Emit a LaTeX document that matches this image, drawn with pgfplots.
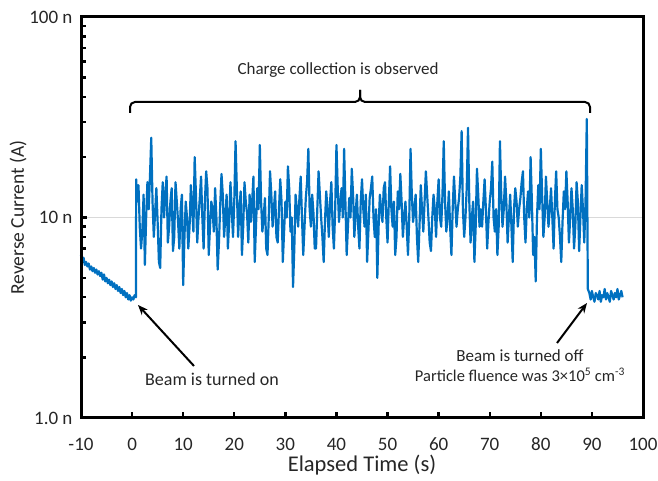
\documentclass[border=0pt]{standalone}
\usepackage{pgfplots}
\pgfplotsset{compat=1.18}
\usepackage{fontspec}
\setmainfont{Carlito}
\usetikzlibrary{arrows.meta}
\definecolor{exblue}{RGB}{0,112,192}
\begin{document}
\begin{tikzpicture}[x=1pt,y=1pt]
\useasboundingbox (0,0) rectangle (658,481);
\begin{axis}[
  at={(81pt,63pt)}, anchor=south west,
  scale only axis, width=562pt, height=401pt,
  xmin=-10, xmax=100, ymin=1, ymax=100, ymode=log,
  xtick={-10,0,10,20,30,40,50,60,70,80,90,100},
  xticklabels={-10,0,10,20,30,40,50,60,70,80,90,100},
  ytick={1,10,100}, yticklabels={1.0 n,10 n,100 n},
  xtick pos=bottom, ytick pos=left,
  tick align=inside,
  major tick length=6pt, minor tick length=5pt,
  tick style={black, line width=2.4pt},
  minor tick style={black, line width=2.4pt},
  ymajorgrids, major grid style={black!15, line width=0.6pt},
  ticklabel style={font=\fontsize{19}{22}\selectfont, text=black!85},
  xticklabel style={anchor=center, yshift=-26pt},
  yticklabel style={anchor=east, xshift=-5pt},
  xlabel={Elapsed Time (s)}, ylabel={Reverse Current (A)},
  label style={text=black!85},
  xlabel style={font=\fontsize{22.5}{26}\selectfont, at={(axis description cs:0.5,-0.1172)}, anchor=center},
  ylabel style={font=\fontsize{19.5}{23}\selectfont, at={(axis description cs:-0.1121,0.5)}, anchor=center},
  clip=false,
]
\addplot[exblue, line width=2.2pt, line join=round] coordinates {
(-10,6.5) (-9.75,6.1) (-9.5,6.3) (-9.25,5.8) (-9,6.0) (-8.75,5.7) (-8.5,5.9) (-8.25,5.5) (-8,5.7) (-7.75,5.4)
(-7.5,5.6) (-7.25,5.3) (-7,5.5) (-6.75,5.2) (-6.5,5.4) (-6.25,5.1) (-6,5.3) (-5.75,4.9) (-5.5,5.2) (-5.25,4.8)
(-5,5.0) (-4.75,4.7) (-4.5,4.9) (-4.25,4.6) (-4,4.8) (-3.75,4.5) (-3.5,4.7) (-3.25,4.4) (-3,4.6) (-2.75,4.3)
(-2.5,4.5) (-2.25,4.2) (-2,4.4) (-1.75,4.1) (-1.5,4.3) (-1.25,4.0) (-1,4.2) (-0.75,3.9) (-0.5,4.1) (-0.25,3.85)
(0,4.0) (0.25,3.9) (0.5,4.1) (0.75,4.0) (0.8,15.5)
(1.0,12) (1.25,14.5) (1.5,9) (1.75,7) (2.0,8.5) (2.25,13) (2.5,5.8) (2.75,10) (3.0,15) (3.25,11)
(3.5,16) (3.75,25) (4.0,12) (4.25,8) (4.5,10.5) (4.75,14) (5.0,9.5) (5.25,6) (5.5,5.6) (5.75,11)
(6.0,15) (6.25,10) (6.5,13) (6.75,16) (7.0,7.5) (7.25,9) (7.5,12) (7.75,14) (8.0,6.8) (8.25,8)
(8.5,15) (8.75,12) (9.0,9.5) (9.25,7) (9.5,11) (9.75,13) (10.0,4.6) (10.25,8) (10.5,12) (10.75,10)
(11.0,7) (11.25,9) (11.5,14.5) (11.75,11) (12.0,8.5) (12.25,20) (12.5,13) (12.75,7.5) (13.0,10) (13.25,12.5)
(13.5,16) (13.75,10) (14.0,7) (14.25,12) (14.5,17) (14.75,14) (15.0,6.5) (15.25,9) (15.5,12) (15.75,11)
(16.0,8.5) (16.25,14) (16.5,10) (16.75,5.5) (17.0,7.5) (17.25,11.5) (17.5,16.5) (17.75,13) (18.0,8) (18.25,10)
(18.5,13) (18.75,7) (19.0,9.5) (19.25,15) (19.5,11) (19.75,8) (20.0,12) (20.25,24) (20.5,14) (20.75,8)
(21.0,11) (21.25,13.5) (21.5,6.5) (21.75,9) (22.0,15) (22.25,12) (22.5,10.5) (22.75,7.5) (23.0,13) (23.25,9.5)
(23.5,12) (23.75,16) (24.0,6) (24.25,9) (24.5,14) (24.75,11) (25.0,23) (25.25,12) (25.5,8.5) (25.75,10)
(26.0,12.5) (26.25,7) (26.5,6.5) (26.75,10) (27.0,17) (27.25,13) (27.5,9) (27.75,11) (28.0,13.5) (28.25,8)
(28.5,7.5) (28.75,11) (29.0,15.5) (29.25,12) (29.5,6) (29.75,8.5) (30.0,12) (30.25,10) (30.5,18) (30.75,14)
(31.0,8.5) (31.25,10) (31.5,4.5) (31.75,7) (32.0,13) (32.25,11) (32.5,9) (32.75,12.5) (33.0,16) (33.25,10)
(33.5,6.5) (33.75,9) (34.0,12.5) (34.25,15) (34.5,22) (34.75,11) (35.0,9) (35.25,13) (35.5,10.5) (35.75,7)
(36.0,7) (36.25,11) (36.5,17) (36.75,13) (37.0,10) (37.25,8) (37.5,6) (37.75,9.5) (38.0,13.5) (38.25,11)
(38.5,8) (38.75,12) (39.0,15) (39.25,9) (39.5,7) (39.75,11) (40.0,23) (40.25,14) (40.5,9.5) (40.75,12)
(41.0,14) (41.25,10) (41.5,22) (41.75,12) (42.0,6.5) (42.25,9) (42.5,12.5) (42.75,10) (43.0,17.5) (43.25,13)
(43.5,8) (43.75,10.5) (44.0,13) (44.25,9) (44.5,7) (44.75,12) (45.0,15.5) (45.25,11) (45.5,9) (45.75,13)
(46.0,6) (46.25,8.5) (46.5,12.5) (46.75,14) (47.0,16) (47.25,10) (47.5,8) (47.75,11) (48.0,5) (48.25,9)
(48.5,13) (48.75,11) (49.0,9.5) (49.25,14) (49.5,15) (49.75,10) (50.0,7.5) (50.25,12) (50.5,18) (50.75,11)
(51.0,9) (51.25,12) (51.5,6.5) (51.75,8) (52.0,13.5) (52.25,11) (52.5,16.5) (52.75,12) (53.0,8) (53.25,10)
(53.5,12) (53.75,9) (54.0,6.5) (54.25,10) (54.5,22) (54.75,13) (55.0,9.5) (55.25,11) (55.5,13) (55.75,8)
(56.0,6) (56.25,9) (56.5,14.5) (56.75,11) (57.0,8.5) (57.25,12) (57.5,17) (57.75,13) (58.0,10) (58.25,7.5)
(58.5,6.8) (58.75,10) (59.0,13) (59.25,11) (59.5,8) (59.75,12) (60.0,15.5) (60.25,10) (60.5,9) (60.75,13)
(61.0,24) (61.25,12) (61.5,8.5) (61.75,10) (62.0,13.5) (62.25,9) (62.5,6.5) (62.75,11) (63.0,16) (63.25,12)
(63.5,9) (63.75,11) (64.0,12.5) (64.25,16) (64.5,27) (64.75,11) (65.0,8) (65.25,10) (65.5,14) (65.75,28)
(66.0,12) (66.25,7.5) (66.5,10) (66.75,12) (67.0,6) (67.25,9) (67.5,17.5) (67.75,13) (68.0,9) (68.25,11)
(68.5,9) (68.75,12) (69.0,15.5) (69.25,11) (69.5,7) (69.75,9.5) (70.0,12) (70.25,14) (70.5,19) (70.75,10)
(71.0,8.5) (71.25,11) (71.5,6.5) (71.75,9) (72.0,24) (72.25,13) (72.5,9) (72.75,11) (73.0,16) (73.25,12)
(73.5,7.5) (73.75,10) (74.0,13) (74.25,9) (74.5,6) (74.75,11) (75.0,14) (75.25,12) (75.5,9) (75.75,11)
(76.0,12.5) (76.25,15) (76.5,17) (76.75,10) (77.0,7.5) (77.25,11) (77.5,13.5) (77.75,10) (78.0,20) (78.25,12)
(78.5,6.5) (78.75,8) (79.0,4.8) (79.25,10) (79.5,14.5) (79.75,11) (80.0,22) (80.25,13) (80.5,8) (80.75,10)
(81.0,16) (81.25,12) (81.5,9) (81.75,11) (82.0,14) (82.25,10) (82.5,7) (82.75,12) (83.0,17) (83.25,11)
(83.5,10) (83.75,8) (84.0,6) (84.25,9.5) (84.5,13.5) (84.75,11) (85.0,17) (85.25,12) (85.5,7.5) (85.75,10)
(86.0,14) (86.25,11) (86.5,7) (86.75,9) (87.0,15) (87.25,12) (87.5,6.8) (87.75,10) (88.0,14.5) (88.25,11)
(88.5,7.5) (88.75,12) (89.0,31) (89.2,4.4)
(89.5,4.2) (89.75,3.9) (90,4.3) (90.25,4.0) (90.5,3.8) (90.75,4.2) (91,4.1) (91.25,3.9) (91.5,4.3) (91.75,3.8)
(92,4.1) (92.25,4.0) (92.5,4.4) (92.75,3.9) (93,4.2) (93.25,4.0) (93.5,3.8) (93.75,4.3) (94,4.1) (94.25,3.9)
(94.5,4.2) (94.75,4.0) (95,4.4) (95.25,3.9) (95.5,4.1) (95.75,4.3) (96,4.0)
};
\end{axis}
\begin{scope}[line width=2pt, black]
\draw[rounded corners=5pt] (130,368) -- (130,379) -- (360,379) -- (360,391);
\draw[rounded corners=5pt] (360,391) -- (360,379) -- (590,379) -- (590,368);
\draw[-{Stealth[length=10pt,width=8pt]}] (194,115) -- (138,176);
\draw[-{Stealth[length=10pt,width=8pt]}] (557,138) -- (587,178);
\end{scope}
\begin{scope}[font=\fontsize{17}{20}\selectfont, text=black!85]
\node at (338,411) {Charge collection is observed};
\node[font=\fontsize{18}{21}\selectfont] at (212,102) {Beam is turned on};
\node[align=center] at (520,115) {Beam is turned off\\[0pt]{\fontsize{16.5}{20}\selectfont Particle fluence was 3×10\textsuperscript{5} cm\textsuperscript{-3}}};
\end{scope}
\draw[line width=3pt, black] (81,63) -- (643,63) -- (643,464) -- (81,464) -- cycle;
\end{tikzpicture}
\end{document}
